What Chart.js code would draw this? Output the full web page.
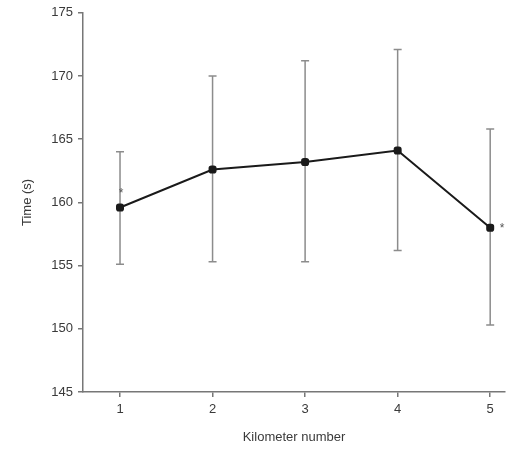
<!DOCTYPE html>
<html lang="en">
<head>
  <meta charset="UTF-8">
  <title>Time per kilometer</title>
  <script src="https://cdn.jsdelivr.net/npm/chart.js"></script>
  <style>
    html, body { margin: 0; padding: 0; background: #fff; }
    #wrap { width: 511px; height: 449px; }
  </style>
</head>
<body>
  <div id="wrap"><canvas id="timeChart" width="511" height="449"></canvas></div>

  <script>
    // values
    const kilometers = [1, 2, 3, 4, 5];
    const meanTime = [159.6, 162.6, 163.2, 164.1, 158.0];
    const errLow = [155.1, 155.3, 155.3, 156.2, 150.3];
    const errHigh = [164.0, 170.0, 171.2, 172.1, 165.8];
    const starred = [1, 5];
    const yTicks = [145, 150, 155, 160, 165, 170, 175];

    const tickFont = { family: 'Liberation Sans, Arial, sans-serif', size: 13 };
    const textColor = '#3a3a3a';

    const errorBars = {
      id: 'errorBars',
      beforeDatasetsDraw(chart) {
        const { ctx, scales: { x, y } } = chart;
        ctx.save();
        ctx.strokeStyle = '#8c8c8c';
        ctx.lineWidth = 1.5;
        kilometers.forEach((k, i) => {
          const px = x.getPixelForValue(k);
          const top = y.getPixelForValue(errHigh[i]);
          const bot = y.getPixelForValue(errLow[i]);
          ctx.beginPath();
          ctx.moveTo(px, top); ctx.lineTo(px, bot);
          ctx.moveTo(px - 4, top); ctx.lineTo(px + 4, top);
          ctx.moveTo(px - 4, bot); ctx.lineTo(px + 4, bot);
          ctx.stroke();
        });
        ctx.restore();
      },
      afterDatasetsDraw(chart) {
        const { ctx, scales: { x, y } } = chart;
        ctx.save();
        ctx.fillStyle = '#555';
        ctx.font = '12px Liberation Sans, Arial, sans-serif';
        ctx.textAlign = 'center';
        ctx.textBaseline = 'middle';
        starred.forEach(k => {
          const i = kilometers.indexOf(k);
          const px = x.getPixelForValue(k);
          const py = y.getPixelForValue(meanTime[i]);
          // first star sits above the point, last one to its right
          if (i === 0) ctx.fillText('*', px + 1, py - 14);
          else ctx.fillText('*', px + 12, py + 1);
        });
        ctx.restore();
      }
    };

    new Chart(document.getElementById('timeChart'), {
      type: 'line',
      data: {
        datasets: [{
          data: kilometers.map((k, i) => ({ x: k, y: meanTime[i] })),
          borderColor: '#1a1a1a',
          backgroundColor: '#1a1a1a',
          borderWidth: 2,
          pointRadius: 3.5,
          pointStyle: 'rectRounded',
          tension: 0
        }]
      },
      options: {
        responsive: false,
        animation: false,
        layout: { padding: { top: 11, right: 0, bottom: 0, left: 0 } },
        plugins: { legend: { display: false }, tooltip: { enabled: false } },
        scales: {
          x: {
            type: 'linear',
            min: 0.6,
            max: 5.16,
            afterBuildTicks: axis => { axis.ticks = kilometers.map(v => ({ value: v })); },
            afterFit: axis => { axis.height = 57; },
            grid: { drawOnChartArea: false, tickLength: 5, color: '#777', lineWidth: 1.5 },
            border: { color: '#777', width: 1.5 },
            ticks: { font: tickFont, color: textColor, padding: 5 },
            title: { display: true, text: 'Kilometer number', font: tickFont, color: textColor, padding: { top: 0, bottom: 4 } }
          },
          y: {
            min: 145,
            max: 175,
            afterBuildTicks: axis => { axis.ticks = yTicks.map(v => ({ value: v })); },
            afterFit: axis => { axis.width = 83; },
            grid: { drawOnChartArea: false, tickLength: 5, color: '#777', lineWidth: 1.5 },
            border: { color: '#777', width: 1.5 },
            ticks: { font: tickFont, color: textColor, padding: 5 },
            title: { display: true, text: 'Time (s)', font: tickFont, color: textColor, padding: { top: 20, bottom: 0 } }
          }
        }
      },
      plugins: [errorBars]
    });
  </script>
</body>
</html>
